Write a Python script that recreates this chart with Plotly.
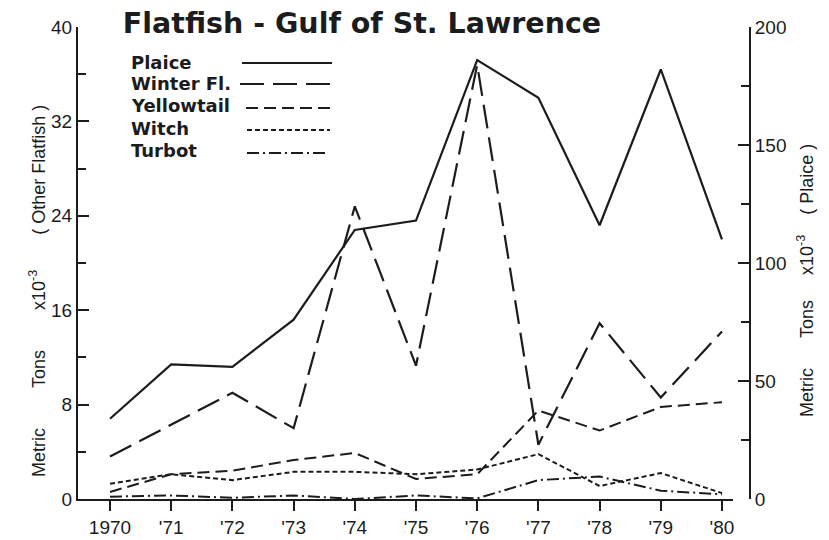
import plotly.graph_objects as go

# ---------------- data ----------------
years = [1970, 1971, 1972, 1973, 1974, 1975, 1976, 1977, 1978, 1979, 1980]
year_labels = ["1970", "'71", "'72", "'73", "'74", "'75", "'76", "'77", "'78", "'79", "'80"]

# Plaice is on the right axis (metric tons x10^-3)
plaice = [34, 57, 56, 76, 114, 118, 186, 170, 116, 182, 110]
# Other flatfish on the left axis (metric tons x10^-3)
winter_fl = [3.6, 6.3, 9.0, 6.0, 24.8, 11.3, 36.8, 4.6, 14.9, 8.6, 14.2]
yellowtail = [0.6, 2.1, 2.4, 3.3, 3.9, 1.7, 2.1, 7.5, 5.8, 7.8, 8.2]
witch = [1.3, 2.1, 1.6, 2.3, 2.3, 2.1, 2.5, 3.8, 1.1, 2.2, 0.5]
turbot = [0.2, 0.3, 0.1, 0.3, 0.0, 0.3, 0.05, 1.6, 1.9, 0.7, 0.4]

left_ticks = [0, 8, 16, 24, 32, 40]
right_ticks = [0, 50, 100, 150, 200]

series_names = ["Plaice", "Winter Fl.", "Yellowtail", "Witch", "Turbot"]

# ---------------- styles ----------------
INK = "#1c1c1c"
SCREEN_W, SCREEN_H = 829, 540
OFF = 8                       # default page (body) margin of the html page
W, H = SCREEN_W - OFF, SCREEN_H - OFF
PLOT_L, PLOT_R, PLOT_T, PLOT_B = 78, 750, 27, 499   # plot area in screen pixels
ML, MR, MT, MB = PLOT_L - OFF, SCREEN_W - PLOT_R, PLOT_T - OFF, SCREEN_H - PLOT_B
PW, PH = PLOT_R - PLOT_L, PLOT_B - PLOT_T

dashes = {
    "Plaice": "solid",
    "Winter Fl.": "24px,9px",
    "Yellowtail": "12px,6px",
    "Witch": "5px,3px",
    "Turbot": "12px,4px,2px,4px",
}


def px_x(x):
    return (x - PLOT_L) / PW


def px_y(y):
    return (PLOT_B - y) / PH


fig = go.Figure()

fig.add_trace(go.Scatter(x=years, y=plaice, name="Plaice", yaxis="y2", mode="lines",
                         line=dict(color=INK, width=2.2, dash=dashes["Plaice"])))
fig.add_trace(go.Scatter(x=years, y=winter_fl, name="Winter Fl.", mode="lines",
                         line=dict(color=INK, width=2.2, dash=dashes["Winter Fl."])))
fig.add_trace(go.Scatter(x=years, y=yellowtail, name="Yellowtail", mode="lines",
                         line=dict(color=INK, width=2.0, dash=dashes["Yellowtail"])))
fig.add_trace(go.Scatter(x=years, y=witch, name="Witch", mode="lines",
                         line=dict(color=INK, width=2.0, dash=dashes["Witch"])))
fig.add_trace(go.Scatter(x=years, y=turbot, name="Turbot", mode="lines",
                         line=dict(color=INK, width=2.0, dash=dashes["Turbot"])))

tick_font = dict(family="Liberation Sans, Arial, sans-serif", size=19, color=INK)

fig.update_layout(
    width=W, height=H,
    margin=dict(l=ML, r=MR, t=MT, b=MB, pad=0, autoexpand=False),
    paper_bgcolor="white", plot_bgcolor="white",
    showlegend=False,
    title=dict(text="<b>Flatfish - Gulf of St. Lawrence</b>",
               font=dict(family="DejaVu Sans, sans-serif", size=28.5, color=INK),
               xref="container", yref="container",
               x=(362 - OFF) / W, xanchor="center", y=1 - (23 - OFF) / H, yanchor="middle"),
    xaxis=dict(range=[1969.477, 1980.18], domain=[0, (733 - PLOT_L) / PW], automargin=False,
               tickmode="array", tickvals=years, ticktext=year_labels,
               ticks="outside", ticklen=10, tickwidth=2, tickcolor=INK,
               showline=True, linecolor=INK, linewidth=2,
               showgrid=False, zeroline=False, tickfont=tick_font),
    yaxis=dict(range=[0, 40], tickmode="array", tickvals=left_ticks, automargin=False,
               ticks="inside", ticklen=11, tickwidth=2, tickcolor=INK,
               minor=dict(tickmode="linear", tick0=0, dtick=4, ticks="inside",
                          ticklen=8, tickwidth=1.5, tickcolor=INK),
               showline=True, linecolor=INK, linewidth=2,
               showgrid=False, zeroline=False, tickfont=tick_font),
    yaxis2=dict(range=[0, 200], overlaying="y", side="right", anchor="free", position=1.0,
                automargin=False,
                tickmode="array", tickvals=right_ticks,
                ticks="inside", ticklen=11, tickwidth=2, tickcolor=INK,
                minor=dict(tickmode="linear", tick0=0, dtick=25, ticks="inside",
                           ticklen=8, tickwidth=1.5, tickcolor=INK),
                showline=True, linecolor=INK, linewidth=2,
                showgrid=False, zeroline=False, tickfont=tick_font),
)

# axis titles (rotated) as annotations
title_font = dict(family="Liberation Sans, Arial, sans-serif", size=18, color=INK)
sp = "\u00a0"
left_title = ("Metric" + sp * 8 + "Tons" + sp * 8 + "x10<sup>-3</sup>" + sp * 7 +
              "(" + sp + "Other" + sp + "Flatfish" + sp + ")")
right_title = ("Metric" + sp * 6 + "Tons" + sp * 5 + "x10<sup>-3</sup>" + sp * 4 +
               "(" + sp + "Plaice" + sp + ")")
fig.add_annotation(text=left_title, textangle=-90, showarrow=False,
                   xref="paper", yref="paper", x=px_x(37), y=px_y(291),
                   xanchor="center", yanchor="middle", font=title_font)
fig.add_annotation(text=right_title, textangle=-90, showarrow=False,
                   xref="paper", yref="paper", x=px_x(805), y=px_y(281),
                   xanchor="center", yanchor="middle", font=title_font)

# legend: label on the left, line sample on the right
leg_font = dict(family="DejaVu Sans, sans-serif", size=18, color=INK)
leg_text_y = [62, 83, 105, 128, 150]
leg_line_y = [63, 84, 108, 130, 153]
leg_x0 = [242, 240, 246, 247, 247]
leg_x1 = [332, 332, 332, 330, 328]
for i, name in enumerate(series_names):
    fig.add_annotation(text="<b>" + name + "</b>", showarrow=False,
                       xref="paper", yref="paper", x=px_x(129), y=px_y(leg_text_y[i]),
                       xanchor="left", yanchor="middle", font=leg_font)
    fig.add_shape(type="line", xref="paper", yref="paper",
                  x0=px_x(leg_x0[i]), x1=px_x(leg_x1[i]),
                  y0=px_y(leg_line_y[i]), y1=px_y(leg_line_y[i]),
                  line=dict(color=INK, width=2, dash=dashes[name]))

fig.write_html("out.html")
